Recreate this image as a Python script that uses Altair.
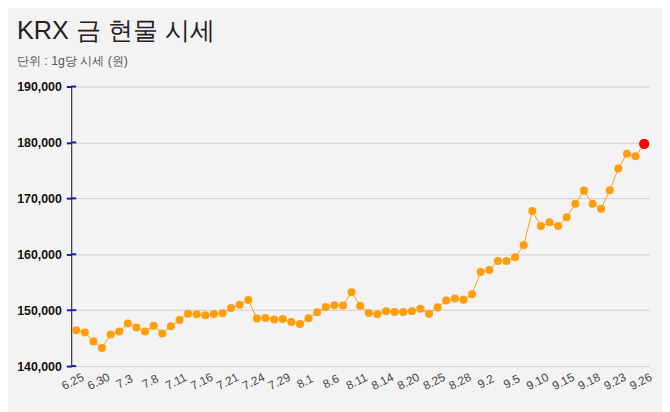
import altair as alt
import pandas as pd

dates = ["6.25", "6.26", "6.27", "6.30", "7.1", "7.2", "7.3", "7.4", "7.7", "7.8",
         "7.9", "7.10", "7.11", "7.14", "7.15", "7.16", "7.17", "7.18", "7.21", "7.22",
         "7.23", "7.24", "7.25", "7.28", "7.29", "7.30", "7.31", "8.1", "8.4", "8.5",
         "8.6", "8.7", "8.8", "8.11", "8.12", "8.13", "8.14", "8.18", "8.19", "8.20",
         "8.21", "8.22", "8.25", "8.26", "8.27", "8.28", "8.29", "9.1", "9.2", "9.3",
         "9.4", "9.5", "9.8", "9.9", "9.10", "9.11", "9.12", "9.15", "9.16", "9.17",
         "9.18", "9.19", "9.22", "9.23", "9.24", "9.25", "9.26"]

prices = [146420, 146020, 144420, 143240, 145660, 146190, 147610, 146900, 146190, 147190,
          145840, 147130, 148250, 149380, 149260, 149080, 149310, 149430, 150370, 150970,
          151820, 148500, 148600, 148320, 148420, 147890, 147540, 148550, 149610, 150550,
          150900, 150850, 153200, 150800, 149490, 149260, 149790, 149660, 149660, 149790,
          150270, 149380, 150500, 151730, 152090, 151860, 152850, 156810, 157170, 158810,
          158810, 159470, 161650, 167720, 165060, 165720, 165060, 166600, 169030, 171380,
          169030, 168140, 171430, 175330, 177980, 177520, 179750]

y_ticks = [140000, 150000, 160000, 170000, 180000, 190000]
x_labels = dates[::3]

df = pd.DataFrame({"date": dates, "price": prices})
df["last"] = [False] * (len(dates) - 1) + [True]
ticks_df = pd.DataFrame({"price": y_ticks})

ORANGE = "#ff9d0a"
FONT = "Liberation Sans"

x_enc = alt.X("date:N", sort=None,
              scale=alt.Scale(type="point", padding=0.58),
              axis=alt.Axis(values=x_labels, title=None, labelAngle=-27,
                            labelAlign="center", labelBaseline="middle",
                            labelOffset=-4, labelPadding=15,
                            labelFontSize=12, labelColor="#444", labelFont=FONT,
                            domain=False, ticks=False, grid=False))
y_enc = alt.Y("price:Q", scale=alt.Scale(domain=[140000, 190000], nice=False, zero=False),
              axis=alt.Axis(values=y_ticks, title=None,
                            labelExpr="format(datum.value, ',')",
                            labelFontSize=12.5, labelFontWeight="bold", labelColor="#111",
                            labelFont=FONT, tickColor="#1a1aa8", tickSize=5, tickWidth=2,
                            domainColor="#111", domainWidth=1, labelPadding=5,
                            grid=True, gridColor="#cfcfcf", gridWidth=1))

base = alt.Chart(df)
line = base.mark_line(color=ORANGE, strokeWidth=1).encode(x=x_enc, y=y_enc)
pts = base.mark_circle(size=66, color=ORANGE, opacity=1).encode(x=x_enc, y=y_enc).transform_filter("!datum.last")
red = base.mark_circle(size=110, color="#ff0000", opacity=1).encode(x=x_enc, y=y_enc).transform_filter("datum.last")

inner_ticks = alt.Chart(ticks_df).mark_rule(color="#1a1aa8", strokeWidth=2).encode(
    y=y_enc, x=alt.value(0), x2=alt.value(5))

chart = alt.layer(line, inner_ticks, pts, red).properties(
    width=585, height=283,
    autosize=alt.AutoSizeParams(type="none"),
    padding={"left": 64, "top": 77, "right": 13, "bottom": 44},
    background="#f3f3f3",
    title=alt.TitleParams(
        text="KRX 금 현물 시세", subtitle="단위 : 1g당 시세 (원)",
        anchor="start", frame="group", dx=-55, offset=13,
        font=FONT, fontSize=25.5, fontWeight="normal", color="#222",
        subtitleFont=FONT, subtitleFontSize=12.5, subtitleColor="#555",
        subtitlePadding=11),
).configure_view(stroke=None)

chart.save("out.html", embed_options={"renderer": "svg", "actions": False})
